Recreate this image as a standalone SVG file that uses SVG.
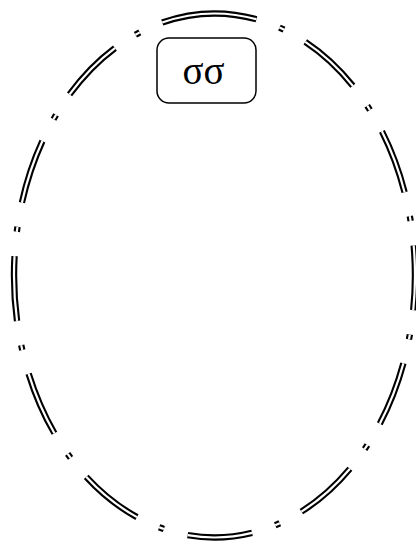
<svg xmlns="http://www.w3.org/2000/svg" width="416" height="543" viewBox="0 0 416 543">
<style>
.ring{fill:none;stroke-dasharray:65 24.5 5 24.5;stroke-dashoffset:22.5;stroke-linecap:butt}
.ring-out{stroke:#000;stroke-width:6.4}
.ring-in{stroke:#fff;stroke-width:2.2}
.box{fill:#fff;stroke:#000;stroke-width:1.5}
.lbl{font-family:"Liberation Serif","DejaVu Serif",serif;font-size:39px;fill:#000;text-anchor:middle}
</style>
<defs>
<path id="ringPath" d="M 214.5 13.5 A 200.5 262 0 0 1 214.5 537.5 A 200.5 262 0 0 1 214.5 13.5"/>
</defs>
<rect width="416" height="543" fill="#fff"/>
<g id="connectors">
<use href="#ringPath" class="ring ring-out"/>
<use href="#ringPath" class="ring ring-in"/>
</g>
<g id="node-sigma">
<rect class="box" x="157" y="38" width="99" height="65" rx="12" ry="12"/>
<text class="lbl" x="203.5" y="84">σσ</text>
</g>
</svg>
